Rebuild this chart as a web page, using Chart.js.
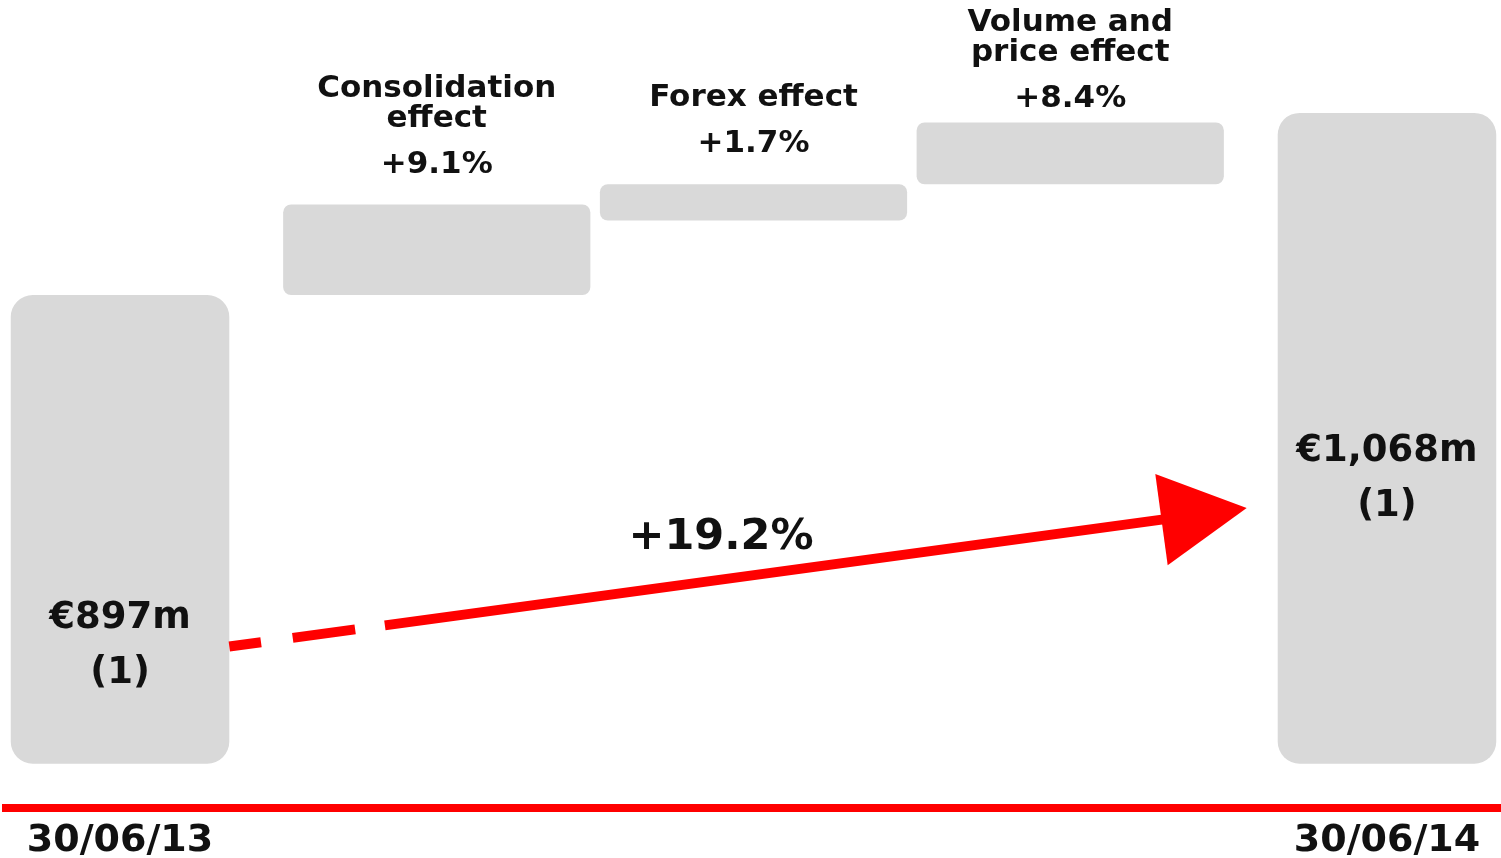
<!DOCTYPE html>
<html>
<head>
<meta charset="utf-8">
<script src="https://cdn.jsdelivr.net/npm/chart.js@4"></script>
<style>
  html, body { margin: 0; padding: 0; background: #fff; }
  #wrap { width: 1501px; height: 858px; }
</style>
</head>
<body>
<div id="wrap"><canvas id="bridgeChart"></canvas></div>
<script>
// Revenue bridge, €m
const categories = ["30/06/13", ["Consolidation", "effect"], ["Forex effect"], ["Volume and", "price effect"], "30/06/14"];
const totalIndex = [0, 4];
const totalValues = [897, 1068];
const effectIndex = [1, 2, 3];
const effectLow = [897, 967, 1001];
const effectHigh = [982, 1001, 1059];
const effectPct = ["+9.1%", "+1.7%", "+8.4%"];
const axisFloor = 457;
const totalGrowth = "+19.2%";

const FONT = '"DejaVu Sans", Verdana, sans-serif';
const GREY = "#d9d9d9";
const RED = "#ff0000";
const INK = "#111111";

// labels, arrow and growth figure
const bridgeDecor = {
    id: "bridgeDecor",
    afterDatasetsDraw(chart) {
        const ctx = chart.ctx;
        const yScale = chart.scales.y;
        const totals = chart.getDatasetMeta(0).data.map(el => el.getProps(["x", "y", "base", "width"], true));
        const effects = chart.getDatasetMeta(1).data.map(el => el.getProps(["x", "y", "base", "width"], true));

        ctx.save();
        ctx.fillStyle = INK;
        ctx.textAlign = "center";
        ctx.textBaseline = "middle";

        // values inside the total bars
        const labelFrac = [0.69, 0.52];
        ctx.font = "bold 37px " + FONT;
        totals.forEach((b, i) => {
            const h = b.base - b.y;
            const ly = b.y + h * labelFrac[i];
            ctx.fillText("€" + totalValues[i].toLocaleString("en-US") + "m", b.x, ly);
            ctx.fillText("(1)", b.x, ly + 55);
        });

        // titles and percentages above the effect bars
        ctx.font = "bold 31px " + FONT;
        effects.forEach((b, i) => {
            const pctY = Math.max(b.y - 40, 99);
            ctx.fillText(effectPct[i], b.x, pctY);
            const lines = categories[effectIndex[i]];
            for (let j = 0; j < lines.length; j++) {
                ctx.fillText(lines[lines.length - 1 - j], b.x, pctY - 46 - j * 30);
            }
        });

        // growth arrow
        const first = totals[0], last = totals[1];
        const x0 = first.x + first.width / 2;
        const y0 = yScale.getPixelForValue(567);
        const xt = last.x - last.width / 2 - 31;
        const yt = yScale.getPixelForValue(697);
        const dx = xt - x0, dy = yt - y0;
        const len = Math.hypot(dx, dy);
        const ux = dx / len, uy = dy / len;
        const headLen = 86, headHalf = 46;
        const bx = xt - ux * headLen, by = yt - uy * headLen;

        ctx.strokeStyle = RED;
        ctx.lineWidth = 10;
        ctx.lineCap = "butt";
        ctx.setLineDash([32, 32, 63, 30, 3000, 0]);
        ctx.beginPath();
        ctx.moveTo(x0, y0);
        ctx.lineTo(bx + ux * 4, by + uy * 4);
        ctx.stroke();
        ctx.setLineDash([]);

        ctx.fillStyle = RED;
        ctx.beginPath();
        ctx.moveTo(xt, yt);
        ctx.lineTo(bx - uy * headHalf, by + ux * headHalf);
        ctx.lineTo(bx + uy * headHalf, by - ux * headHalf);
        ctx.closePath();
        ctx.fill();

        // growth figure above the arrow
        const tx = (x0 + xt) / 2 - 17;
        const lineY = y0 + dy * (tx - x0) / dx;
        ctx.fillStyle = INK;
        ctx.font = "bold 43px " + FONT;
        ctx.fillText(totalGrowth, tx, lineY - 42);
        ctx.restore();
    }
};

const ctx = document.getElementById("bridgeChart").getContext("2d");
window.bridgeChart = new Chart(ctx, {
    type: "bar",
    data: {
        datasets: [{
            label: "Revenue",
            data: totalIndex.map((x, i) => ({ x: x, y: [axisFloor, totalValues[i]] })),
            backgroundColor: GREY,
            borderRadius: 22,
            borderSkipped: false,
            grouped: false,
            categoryPercentage: 1,
            barPercentage: 0.69
        }, {
            label: "Effects",
            data: effectIndex.map((x, i) => ({ x: x, y: [effectLow[i], effectHigh[i]] })),
            backgroundColor: GREY,
            borderRadius: 8,
            borderSkipped: false,
            grouped: false,
            categoryPercentage: 1,
            barPercentage: 0.97
        }]
    },
    options: {
        responsive: true,
        maintainAspectRatio: false,
        animation: false,
        layout: { padding: { left: 6, right: 0, top: 0, bottom: -16 } },
        plugins: {
            legend: { display: false },
            tooltip: { enabled: false }
        },
        scales: {
            x: {
                type: "linear",
                offset: false,
                min: -0.36,
                max: 4.36,
                grid: { display: false, drawTicks: false },
                border: { display: true, color: RED, width: 8 },
                afterBuildTicks: scale => {
                    scale.ticks = totalIndex.map(v => ({ value: v }));
                },
                ticks: {
                    autoSkip: false,
                    maxRotation: 0,
                    padding: 10,
                    color: INK,
                    font: { family: FONT, size: 38, weight: "bold" },
                    callback: value => categories[value]
                }
            },
            y: {
                display: false,
                min: 415,
                max: 1174
            }
        }
    },
    plugins: [bridgeDecor]
});
</script>
</body>
</html>
